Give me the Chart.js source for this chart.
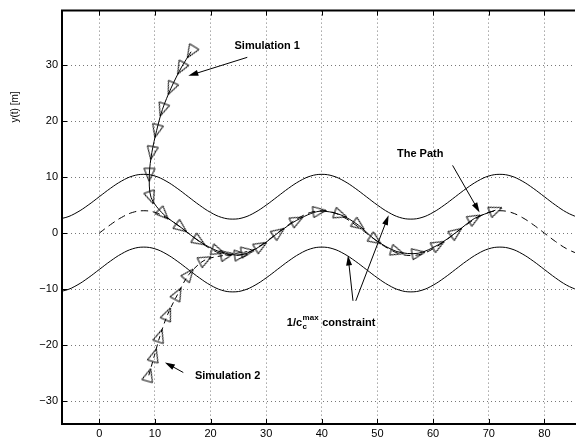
<!DOCTYPE html>
<html>
<head>
<meta charset="utf-8">
<script src="https://cdn.jsdelivr.net/npm/chart.js@4"></script>
<style>
  body { margin: 0; background: #fff; }
  canvas { display: block; }
</style>
</head>
<body>
<canvas id="myChart" width="582" height="441"></canvas>
<script>
const xTicks = [0, 10, 20, 30, 40, 50, 60, 70, 80];
const yTicks = [-30, -20, -10, 0, 10, 20, 30];

// sample positions for the path and the two constraint curves
const curveX = [-8, -6, -4, -2, 0, 2, 4, 6, 8, 10, 12, 14, 16, 18, 20, 22, 24, 26, 28, 30,
  32, 34, 36, 38, 40, 42, 44, 46, 48, 50, 52, 54, 56, 58, 60, 62, 64, 66, 68, 70,
  72, 74, 76, 78, 80, 82, 84, 86];
const pathY = [null, null, null, null, 0, 1.5, 2.8, 3.7, 4, 3.7, 2.8, 1.5, 0, -1.5, -2.8, -3.7, -4, -3.7, -2.8, -1.5,
  0, 1.5, 2.8, 3.7, 4, 3.7, 2.8, 1.5, 0, -1.5, -2.8, -3.7, -4, -3.7, -2.8, -1.5, 0, 1.5, 2.8, 3.7,
  4, 3.7, 2.8, 1.5, 0, -1.5, -2.8, -3.7];
const upperY = [2.5, 2.8, 3.7, 5.0, 6.5, 8.0, 9.3, 10.2, 10.5, 10.2, 9.3, 8.0, 6.5, 5.0, 3.7, 2.8, 2.5, 2.8, 3.7, 5.0,
  6.5, 8.0, 9.3, 10.2, 10.5, 10.2, 9.3, 8.0, 6.5, 5.0, 3.7, 2.8, 2.5, 2.8, 3.7, 5.0, 6.5, 8.0, 9.3, 10.2,
  10.5, 10.2, 9.3, 8.0, 6.5, 5.0, 3.7, 2.8];
const lowerY = [-10.5, -10.2, -9.3, -8.0, -6.5, -5.0, -3.7, -2.8, -2.5, -2.8, -3.7, -5.0, -6.5, -8.0, -9.3, -10.2, -10.5, -10.2, -9.3, -8.0,
  -6.5, -5.0, -3.7, -2.8, -2.5, -2.8, -3.7, -5.0, -6.5, -8.0, -9.3, -10.2, -10.5, -10.2, -9.3, -8.0, -6.5, -5.0, -3.7, -2.8,
  -2.5, -2.8, -3.7, -5.0, -6.5, -8.0, -9.3, -10.2];

// simulation 1 (starts top, joins path)
const sim1X = [16.5, 14.7, 12.9, 11.35, 10.3, 9.45, 9.0, 9.3, 11.5, 14.7, 17.9, 21.3, 25.4, 29.0, 32.2,
  35.5, 39.5, 43.3, 46.6, 49.6, 53.5, 57.3, 60.9, 64.1, 67.4, 71.2];
const sim1Y = [32.4, 29.5, 25.9, 22.1, 18.3, 14.4, 10.5, 6.4, 3.4, 1.0, -1.4, -3.2, -3.9, -2.3, 0.1,
  2.3, 3.9, 3.3, 1.4, -1.2, -3.3, -3.6, -2.1, 0.1, 2.6, 4.1];

// simulation 2 (starts bottom)
const sim2X = [8.9, 9.9, 10.9, 12.3, 14.1, 16.1, 19.0, 22.9, 26.6];
const sim2Y = [-25.4, -21.9, -18.4, -14.5, -10.9, -7.4, -4.8, -3.9, -3.3];

const font = "'Liberation Sans', Arial, Helvetica, sans-serif";

function pts(xs, ys) {
  return xs.map((x, i) => ({x: x, y: ys[i]}));
}

// heading of the vehicle at each sample, in canvas degrees
function headings(xs, ys) {
  return xs.map((x, i) => {
    let a = Math.max(i - 1, 0), b = Math.min(i + 1, xs.length - 1);
    return Math.atan2(-(ys[b] - ys[a]), xs[b] - xs[a]) * 180 / Math.PI;
  });
}

function makeMarker() {
  let c = document.createElement('canvas');
  c.width = 28; c.height = 28;
  let g = c.getContext('2d');
  g.strokeStyle = '#000';
  g.lineWidth = 1;
  g.beginPath();
  g.moveTo(21, 14);
  g.lineTo(8, 8.5);
  g.lineTo(8, 19.5);
  g.closePath();
  g.stroke();
  return c;
}
const marker = makeMarker();

const notes = [
  {text: 'Simulation 1', x: 24.3, y: 33.5},
  {text: 'The Path', x: 53.5, y: 14.1},
  {text: 'Simulation 2', x: 17.2, y: -25.6}
];
const arrows = [
  {from: [26.6, 31.4], to: [16.0, 28.1]},
  {from: [63.5, 12.1], to: [68.35, 3.7]},
  {from: [45.6, -12.1], to: [44.7, -4.0]},
  {from: [46.1, -12.1], to: [52.0, 3.2]},
  {from: [15.1, -24.9], to: [11.8, -23.1]}
];

const extras = {
  id: 'extras',
  afterDatasetsDraw(chart) {
    const ctx = chart.ctx, xs = chart.scales.x, ys = chart.scales.y, area = chart.chartArea;
    ctx.save();
    // inside tick marks
    ctx.strokeStyle = '#000';
    ctx.lineWidth = 1;
    ctx.beginPath();
    xTicks.forEach(v => {
      let px = Math.round(xs.getPixelForValue(v)) + 0.5;
      ctx.moveTo(px, area.bottom); ctx.lineTo(px, area.bottom - 5);
      ctx.moveTo(px, area.top); ctx.lineTo(px, area.top + 5);
    });
    yTicks.forEach(v => {
      let py = Math.round(ys.getPixelForValue(v)) + 0.5;
      ctx.moveTo(area.left, py); ctx.lineTo(area.left + 5, py);
    });
    ctx.stroke();
    // top frame line
    ctx.lineWidth = 2;
    ctx.beginPath();
    ctx.moveTo(area.left - 1, area.top);
    ctx.lineTo(area.right, area.top);
    ctx.stroke();

    // arrows
    ctx.lineWidth = 1;
    ctx.fillStyle = '#000';
    arrows.forEach(a => {
      let x1 = xs.getPixelForValue(a.from[0]), y1 = ys.getPixelForValue(a.from[1]);
      let x2 = xs.getPixelForValue(a.to[0]), y2 = ys.getPixelForValue(a.to[1]);
      let ang = Math.atan2(y2 - y1, x2 - x1);
      ctx.beginPath();
      ctx.moveTo(x1, y1);
      ctx.lineTo(x2 - 6 * Math.cos(ang), y2 - 6 * Math.sin(ang));
      ctx.stroke();
      ctx.beginPath();
      ctx.moveTo(x2, y2);
      ctx.lineTo(x2 - 10 * Math.cos(ang) + 3 * Math.sin(ang), y2 - 10 * Math.sin(ang) - 3 * Math.cos(ang));
      ctx.lineTo(x2 - 10 * Math.cos(ang) - 3 * Math.sin(ang), y2 - 10 * Math.sin(ang) + 3 * Math.cos(ang));
      ctx.closePath();
      ctx.fill();
    });

    // labels
    ctx.textBaseline = 'middle';
    ctx.textAlign = 'left';
    ctx.font = 'bold 11px ' + font;
    notes.forEach(n => {
      ctx.fillText(n.text, xs.getPixelForValue(n.x), ys.getPixelForValue(n.y));
    });
    // 1/c_c^max constraint
    let cx = xs.getPixelForValue(33.7), cy = ys.getPixelForValue(-16.0);
    ctx.fillText('1/c', cx, cy);
    let w = ctx.measureText('1/c').width;
    ctx.font = 'bold 8px ' + font;
    ctx.fillText('max', cx + w + 0.5, cy - 5);
    ctx.fillText('c', cx + w + 0.5, cy + 4);
    let w2 = ctx.measureText('max').width;
    ctx.font = 'bold 11px ' + font;
    ctx.fillText(' constraint', cx + w + w2 + 1, cy);

    // y axis title
    ctx.font = '10px ' + font;
    ctx.textAlign = 'center';
    ctx.translate(15, 107);
    ctx.rotate(-Math.PI / 2);
    ctx.fillText('y(t) [m]', 0, 0);
    ctx.restore();
  }
};

const minus = v => String(v).replace('-', '\u2212');

let ctx = document.getElementById('myChart').getContext('2d');

let myChart = new Chart(ctx, {
  type: 'scatter',
  data: {
    datasets: [
      {
        label: 'upper',
        data: pts(curveX, upperY),
        showLine: true, borderColor: '#000', borderWidth: 1, pointRadius: 0, tension: 0.4
      },
      {
        label: 'lower',
        data: pts(curveX, lowerY),
        showLine: true, borderColor: '#000', borderWidth: 1, pointRadius: 0, tension: 0.4
      },
      {
        label: 'The Path',
        data: pts(curveX, pathY),
        showLine: true, borderColor: '#000', borderWidth: 1, pointRadius: 0, tension: 0.4,
        borderDash: [7, 5]
      },
      {
        label: 'Simulation 2',
        data: pts(sim2X, sim2Y),
        showLine: true, borderColor: '#000', borderWidth: 1, tension: 0.3,
        borderDash: [5, 4],
        pointStyle: marker, pointRadius: 6, pointRotation: headings(sim2X, sim2Y)
      },
      {
        label: 'Simulation 1',
        data: pts(sim1X, sim1Y),
        showLine: true, borderColor: '#000', borderWidth: 1, tension: 0.3,
        pointStyle: marker, pointRadius: 6, pointRotation: headings(sim1X, sim1Y)
      }
    ]
  },
  options: {
    responsive: false,
    animation: false,
    events: [],
    layout: { padding: { top: 7, right: 0, left: 0, bottom: 0 } },
    plugins: { legend: { display: false }, tooltip: { enabled: false } },
    scales: {
      x: {
        type: 'linear',
        min: -6.7, max: 85.5,
        afterBuildTicks: axis => { axis.ticks = xTicks.map(v => ({value: v})); },
        afterFit: axis => { axis.height = 17; },
        ticks: { color: '#000', font: { family: font, size: 11 }, padding: 3, maxRotation: 0, callback: minus },
        grid: { color: '#777', lineWidth: 1, drawTicks: false },
        border: { display: true, color: '#000', width: 2, dash: [1, 3] }
      },
      y: {
        type: 'linear',
        min: -34.1, max: 39.75,
        afterBuildTicks: axis => { axis.ticks = yTicks.map(v => ({value: v})); },
        afterFit: axis => { axis.width = 62; },
        ticks: { color: '#000', font: { family: font, size: 11 }, padding: 4, callback: minus },
        grid: { color: '#777', lineWidth: 1, drawTicks: false },
        border: { display: true, color: '#000', width: 2, dash: [1, 3] }
      }
    }
  },
  plugins: [extras]
});
</script>
</body>
</html>
